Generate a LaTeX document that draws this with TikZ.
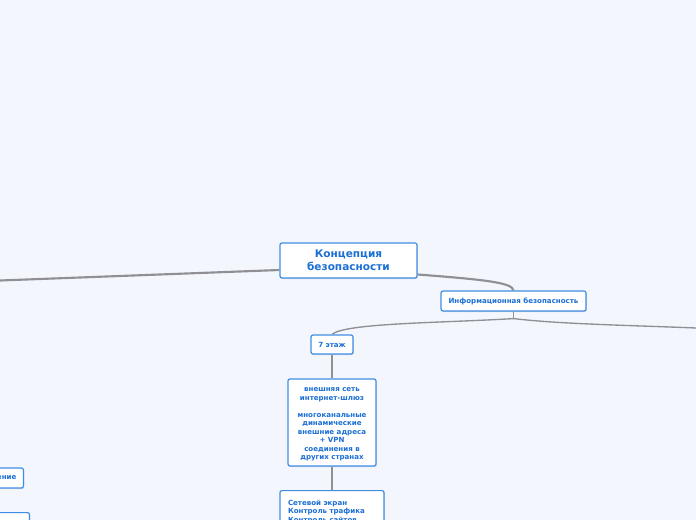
\documentclass[tikz,border=0pt]{standalone}
\usepackage{fontspec}
\setmainfont{DejaVu Sans}
\usetikzlibrary{shadows,calc}
\definecolor{bgpaper}{HTML}{F3F6FD}
\definecolor{boxblue}{HTML}{3F8EE6}
\definecolor{txtblue}{HTML}{1C6FD4}
\definecolor{linegray}{HTML}{8F8F95}
\tikzset{every picture/.style={line width=0.75pt}}
\tikzset{
  topic/.style={draw=boxblue, fill=white, rounded corners=1.5pt, line width=0.9pt,
    text=txtblue, inner sep=0pt, align=center,
    drop shadow={shadow xshift=0.6pt, shadow yshift=-0.8pt, opacity=0.25}},
  small/.style={font=\bfseries\fontsize{5.3}{6.4}\selectfont},
  link/.style={draw=linegray, line width=1pt},
  mainlink/.style={draw=linegray, line width=1.6pt}
}

\begin{document}
\begin{tikzpicture}[x=0.75pt,y=0.75pt,yscale=-1,xscale=1]
\useasboundingbox (0,0) rectangle (696,520);
\fill[bgpaper] (0,0) rectangle (696,520);

%Root
\node[topic, font=\bfseries\fontsize{7.9}{9.8}\selectfont, minimum width=102.75pt, minimum height=26.25pt] (root) at (348.5,260.5) {Концепция\\безопасности};
%Level 1
\node[topic, small, minimum width=108.75pt, minimum height=15pt] (info) at (513.5,301) {Информационная безопасность};
%Level 2
\node[topic, small, minimum width=31.5pt, minimum height=14.25pt] (floor) at (332,344.5) {7 этаж};
\node[topic, small, minimum width=66pt, minimum height=65.25pt] (gate) at (332,422.5) {\rule{0pt}{6pt}внешняя сеть\\интернет-шлюз\\[6.4pt]многоканальные\\динамические\\внешние адреса\\+ VPN\\соединения в\\других странах};
\node[topic, small, anchor=north, align=left, text width=66pt, inner xsep=6pt, inner ysep=6.8pt] (fw) at (332,490) {Сетевой экран\\Контроль трафика\\Контроль сайтов\\ };
%Left side
\node[topic, small, anchor=east, align=right, text width=40pt, inner xsep=5.25pt, minimum height=15pt] (leftA) at (24,478) {ение};
\node[topic, small, anchor=north east, minimum width=45pt, minimum height=15pt] (leftB) at (30,512) {};

\coordinate (farleft) at (0,280.5);
\coordinate (farright) at (696,328);
\coordinate (split) at ($(info.south)+(0,7)$);

%Connectors
\draw[mainlink] ($(root.west)+(0,9.5)$) -- (farleft);
\draw[mainlink] ($(root.east)+(0,14)$) .. controls (490,280) and (512,283) .. (info.north);
\draw[link] (info.south) -- (split);
\draw[link] (split) .. controls (440,323) and (345,323) .. (floor.north);
\draw[link] (split) .. controls (560,324) and (620,325) .. (farright);
\draw[link] (floor.south) -- (gate.north);
\draw[link] (gate.south) -- (fw.north);
\end{tikzpicture}
\end{document}
